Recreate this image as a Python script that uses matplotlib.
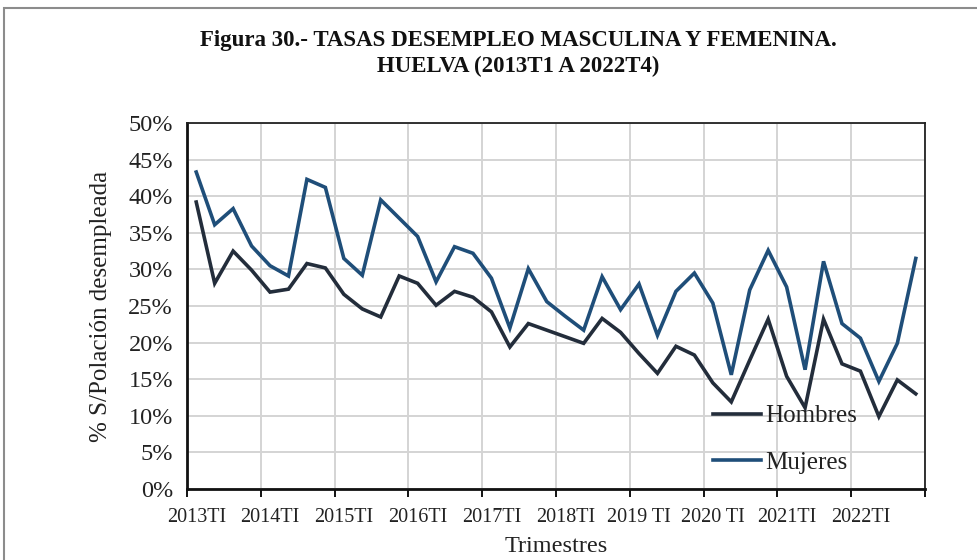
import matplotlib
matplotlib.use("Agg")
import matplotlib.pyplot as plt
from matplotlib.patches import Rectangle
from matplotlib.ticker import FixedLocator, FuncFormatter

years = ["2013TI", "2014TI", "2015TI", "2016TI", "2017TI", "2018TI",
         "2019 TI", "2020 TI", "2021TI", "2022TI"]

hombres = [39.2, 28.1, 32.5, 29.9, 26.9, 27.3, 30.8, 30.2, 26.6, 24.6,
           23.5, 29.1, 28.1, 25.1, 27.0, 26.2, 24.2, 19.4, 22.6, 21.7,
           20.8, 19.9, 23.3, 21.4, 18.5, 15.8, 19.5, 18.3, 14.5, 11.9,
           17.6, 23.2, 15.4, 11.1, 23.2, 17.1, 16.1, 9.9, 14.9, 13.0]

mujeres = [43.3, 36.1, 38.3, 33.2, 30.5, 29.1, 42.3, 41.2, 31.5, 29.2,
           39.5, 37.0, 34.5, 28.3, 33.1, 32.2, 28.8, 22.0, 30.1, 25.6,
           23.6, 21.7, 29.0, 24.5, 28.0, 21.0, 27.0, 29.5, 25.4, 15.6,
           27.2, 32.6, 27.6, 16.3, 31.1, 22.6, 20.6, 14.7, 19.9, 31.5]

yticks = list(range(0, 55, 5))

serif = ["Liberation Serif", "DejaVu Serif"]
plt.rcParams["font.family"] = serif

fig = plt.figure(figsize=(9.77, 5.60), dpi=100)
fig.patches.append(Rectangle((4 / 977, -0.1), 1.2, 1.1 - 8 / 560,
                             transform=fig.transFigure, fill=False,
                             edgecolor="#8c8c8c", linewidth=1.5))

ax = fig.add_axes([187 / 977, 1 - 489 / 560, (925 - 187) / 977, (489 - 123) / 560])

x = list(range(len(hombres)))
ax.plot(x, hombres, color="#232d3b", linewidth=2.6, label="Hombres",
        solid_joinstyle="miter", zorder=3)
ax.plot(x, mujeres, color="#1f4e79", linewidth=2.6, label="Mujeres",
        solid_joinstyle="miter", zorder=3)

n = len(hombres)
ax.set_xlim(-0.5, n - 0.5)
ax.set_ylim(0, 50)

bounds = [i - 0.5 for i in range(0, n + 1, 4)]
ax.xaxis.set_major_locator(FixedLocator(bounds))
ax.xaxis.set_major_formatter(FuncFormatter(lambda v, p: ""))
ax.xaxis.set_minor_locator(FixedLocator([i for i in range(0, n, 4)]))
ax.set_xticklabels(years, minor=True)
ax.tick_params(axis="x", which="major", length=6, width=1.3, color="black",
               direction="out")
ax.tick_params(axis="x", which="minor", length=0, pad=14, labelsize=14.5,
               labelcolor="#222222")

ax.set_yticks(yticks)
ax.set_yticklabels([f"{v}%" for v in yticks])
ax.tick_params(axis="y", length=0, pad=10, labelsize=17.5, labelcolor="#222222")

ax.grid(True, which="major", color="#d4d4d4", linewidth=1.4, zorder=0)
ax.set_axisbelow(True)

for s in ["top", "right"]:
    ax.spines[s].set_linewidth(1.3)
    ax.spines[s].set_color("#222222")
ax.spines["left"].set_linewidth(2.0)
ax.spines["left"].set_color("#111111")
ax.spines["bottom"].set_linewidth(2.0)
ax.spines["bottom"].set_color("#111111")

ax.set_ylabel("% S/Polación desempleada", fontsize=18, color="#222222", labelpad=12)
ax.set_xlabel("Trimestres", fontsize=17.5, color="#222222", labelpad=6)

fig.text(0.5 + 30 / 977, 1 - 54 / 560,
         "Figura 30.- TASAS DESEMPLEO MASCULINA Y FEMENINA.\nHUELVA (2013T1 A 2022T4)",
         ha="center", va="center", fontsize=16.5, fontweight="bold",
         color="#111111", linespacing=1.3)

leg = ax.legend(loc="upper left", bbox_to_anchor=(713 / 977, 1 - 405 / 560),
                bbox_transform=fig.transFigure, frameon=False, fontsize=18,
                handlelength=1.9, handletextpad=0.2, labelspacing=0.95,
                borderpad=0, borderaxespad=0)
for t in leg.get_texts():
    t.set_color("#222222")

fig.savefig("out.png", dpi=100)
